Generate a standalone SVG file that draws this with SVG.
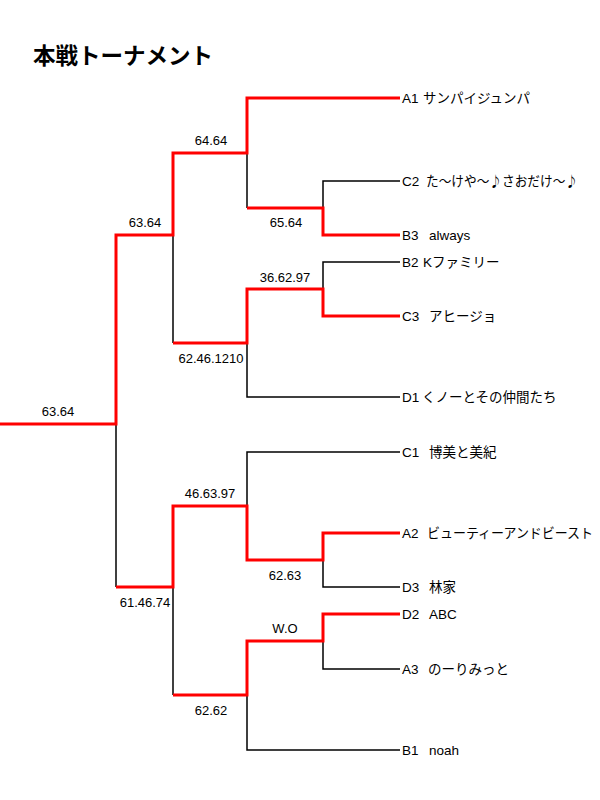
<svg xmlns="http://www.w3.org/2000/svg" width="600" height="800" viewBox="0 0 600 800">
<style>
.bg{fill:#fff}
.title{font-family:"Liberation Sans","Noto Sans CJK JP",sans-serif;font-size:22.5px;font-weight:bold;fill:#000}
.leaf{font-family:"Liberation Sans","Noto Sans CJK JP",sans-serif;font-size:13.5px;fill:#000}
.jp{font-family:"Noto Sans CJK JP",sans-serif}
.score{font-family:"Liberation Sans","Noto Sans CJK JP",sans-serif;font-size:13px;fill:#000;text-anchor:middle}
.lose{fill:none;stroke:#000;stroke-width:1.5}
.win{fill:none;stroke:#ff0000;stroke-width:3;stroke-linejoin:miter}
</style>
<rect class="bg" x="0" y="0" width="600" height="800"/>
<text class="title" x="33" y="64">本戦トーナメント</text>
<g id="connectors">
  <path class="lose" d="M116,424 V587"/>
  <path class="lose" d="M173,235 V343"/>
  <path class="lose" d="M247,153 V208"/>
  <path class="lose" d="M323,208 V181 H400"/>
  <path class="lose" d="M323,289 V262 H400"/>
  <path class="lose" d="M247,343 V397 H400"/>
  <path class="lose" d="M247,506 V452 H400"/>
  <path class="lose" d="M323,560 V587 H400"/>
  <path class="lose" d="M173,587 V695"/>
  <path class="lose" d="M323,641 V669 H400"/>
  <path class="lose" d="M247,695 V750 H400"/>
  <path class="win" d="M0,424 H116 V235 H173 V153 H247 V98 H400"/>
  <path class="win" d="M247,208 H323 V235 H400"/>
  <path class="win" d="M173,343 H247 V289 H323 V316 H400"/>
  <path class="win" d="M116,587 H173 V506 H247 V560 H323 V533 H400"/>
  <path class="win" d="M173,695 H247 V641 H323 V614 H400"/>
</g>
<g id="scores">
  <text class="score" x="58" y="416">63.64</text>
  <text class="score" x="145" y="227">63.64</text>
  <text class="score" x="211" y="145">64.64</text>
  <text class="score" x="286" y="227">65.64</text>
  <text class="score" x="285" y="282">36.62.97</text>
  <text class="score" x="211" y="363">62.46.1210</text>
  <text class="score" x="145" y="607">61.46.74</text>
  <text class="score" x="210" y="498">46.63.97</text>
  <text class="score" x="285" y="580">62.63</text>
  <text class="score" x="285" y="633">W.O</text>
  <text class="score" x="211" y="715">62.62</text>
</g>
<g id="A1"><text class="leaf" x="402" y="103">A1<tspan class="jp" x="423">サンパイジュンパ</tspan></text></g>
<g id="C2"><text class="leaf" x="402" y="186">C2<tspan class="jp" x="426" textLength="152" lengthAdjust="spacingAndGlyphs">た～けや～♪さおだけ～♪</tspan></text></g>
<g id="B3"><text class="leaf" x="402" y="240">B3<tspan x="429">always</tspan></text></g>
<g id="B2"><text class="leaf" x="402" y="267">B2<tspan x="423">K</tspan><tspan class="jp">ファミリー</tspan></text></g>
<g id="C3"><text class="leaf" x="402" y="321">C3<tspan class="jp" x="429">アヒージョ</tspan></text></g>
<g id="D1"><text class="leaf" x="402" y="402">D1<tspan class="jp" x="422">くノーとその仲間たち</tspan></text></g>
<g id="C1"><text class="leaf" x="402" y="457">C1<tspan class="jp" x="429">博美と美紀</tspan></text></g>
<g id="A2"><text class="leaf" x="402" y="538">A2<tspan class="jp" x="427" textLength="166" lengthAdjust="spacingAndGlyphs">ビューティーアンドビースト</tspan></text></g>
<g id="D3"><text class="leaf" x="402" y="592">D3<tspan class="jp" x="429">林家</tspan></text></g>
<g id="D2"><text class="leaf" x="402" y="619">D2<tspan x="429">ABC</tspan></text></g>
<g id="A3"><text class="leaf" x="402" y="674">A3<tspan class="jp" x="428">のーりみっと</tspan></text></g>
<g id="B1"><text class="leaf" x="402" y="755">B1<tspan x="429">noah</tspan></text></g>
</svg>
